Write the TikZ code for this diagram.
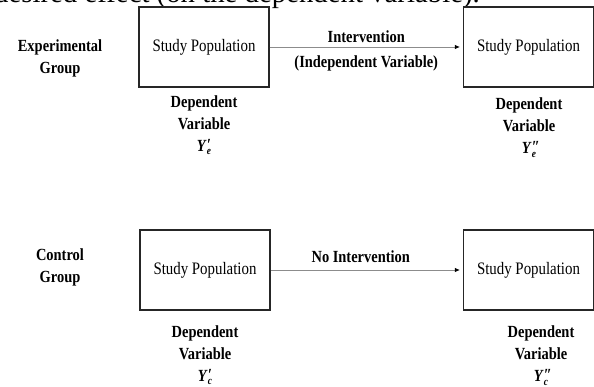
\documentclass[tikz,border=0pt]{standalone}
\usepackage{fontspec}
\setmainfont[FakeStretch=0.85]{Liberation Serif}
\newfontfamily\bodyfont{Liberation Serif}
\usetikzlibrary{arrows.meta}

% measured value: Y with a prime above and the group index below
\newcommand{\ymeas}[2]{\textit{Y}\rlap{\raisebox{0.1ex}{\textit{#1}}}\raisebox{-0.45ex}{\fontsize{11}{11}\selectfont\textit{#2}}}

\begin{document}
\begin{tikzpicture}[x=1pt,y=-1pt,
  every node/.style={font=\fontsize{17}{22}\selectfont},
  popbox/.style={draw=black!85,line width=1.1pt,minimum width=130pt,
                 minimum height=80pt,inner sep=0pt,
                 font=\fontsize{17.5}{22}\selectfont},
  grouplbl/.style={align=center,font=\fontsize{17}{22}\selectfont\bfseries},
  deplbl/.style={align=center,font=\fontsize{17}{22}\selectfont\bfseries},
  treat/.style={-{Latex[color=black,length=5pt,width=4.5pt]},draw=black!45,
                line width=0.9pt,shorten >=3pt},
  armlbl/.style={font=\fontsize{17}{22}\selectfont\bfseries,inner sep=2pt}]
\clip (0,0) rectangle (594,387);
\node[anchor=base east,inner sep=0pt,font=\bodyfont\fontsize{28.8}{30}\selectfont]
    (cut) at (480,2.5) {desired effect (on the dependent variable).};
% experimental group
\node[grouplbl] (expgrp) at (60,58) {Experimental\\Group};
\node[popbox] (expbefore) at (204,47) {Study Population};
\node[popbox] (expafter) at (528.5,47) {Study Population};
\node[deplbl] (expdepa) at (204,125) {Dependent\\Variable\\\ymeas{′}{e}};
\node[deplbl] (expdepb) at (529,127.5) {Dependent\\Variable\\\ymeas{″}{e}};
\draw[treat] (expbefore) -- node[armlbl,above=2pt] {Intervention}
    node[armlbl,below=6pt] {(Independent Variable)} (expafter);
% control group
\node[grouplbl] (ctlgrp) at (60,267) {Control\\Group};
\node[popbox] (ctlbefore) at (205,270) {Study Population};
\node[popbox] (ctlafter) at (528.5,270) {Study Population};
\node[deplbl] (ctldepa) at (205,355) {Dependent\\Variable\\\ymeas{′}{c}};
\node[deplbl] (ctldepb) at (541,355.5) {Dependent\\Variable\\\ymeas{″}{c}};
\draw[treat] (ctlbefore) -- node[armlbl,above=5pt,xshift=-6pt] {No Intervention}
    (ctlafter);
\end{tikzpicture}
\end{document}
